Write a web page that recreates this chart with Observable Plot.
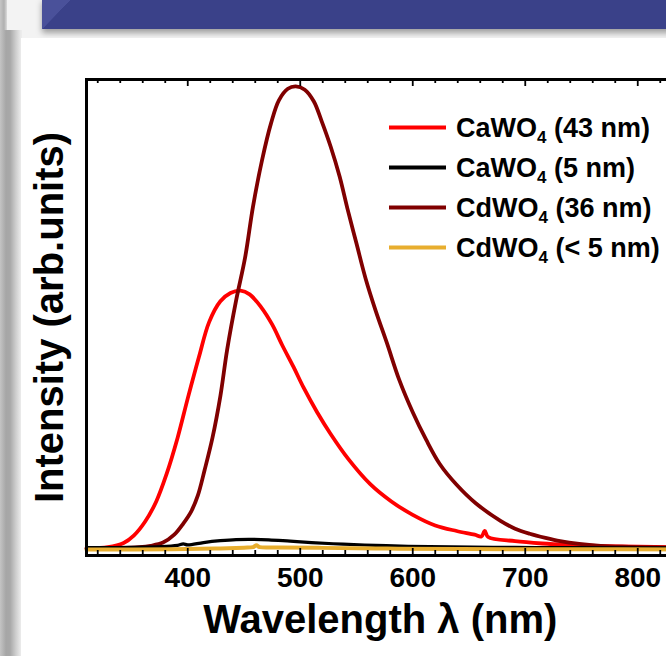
<!DOCTYPE html>
<html>
<head>
<meta charset="utf-8">
<script src="https://cdn.jsdelivr.net/npm/d3@7"></script>
<script src="https://cdn.jsdelivr.net/npm/@observablehq/plot@0.6"></script>
<style>
  html, body { margin: 0; padding: 0; width: 666px; height: 656px; overflow: hidden; background: #f3f3f3; }
  #topstrip { position: absolute; left: 0; top: 0; width: 7px; height: 40px; background: linear-gradient(to right, #c6c6c6, #b0b0b0 4px, #dcdcdc 7px); }
  #strip { position: absolute; left: 0; top: 30px; width: 22px; height: 640px; background: linear-gradient(to right, #c4c4c4 0px, #a6a6a6 6px, #a8a8a8 10px, #cfcfcf 16px, #ececec 21px); }
  #banner { position: absolute; left: 42px; top: -2px; width: 640px; height: 31px; background: #3a4189; box-shadow: 0 4px 6px rgba(0,0,0,0.35); }
  #bevel { position: absolute; left: 42px; top: -2px; width: 30px; height: 31px; background: linear-gradient(to bottom right, #4a519a 50%, transparent 51%); }
  #panel { position: absolute; left: 21px; top: 38px; width: 660px; height: 640px; background: #ffffff; }
  #chart { position: absolute; left: 0; top: 0; width: 700px; height: 656px; }
  #chart svg { display: block; max-width: none !important; width: 700px !important; height: 656px !important; }
</style>
</head>
<body>
<div id="topstrip"></div>
<div id="strip"></div>
<div id="banner"></div>
<div id="bevel"></div>
<div id="panel"></div>
<div id="chart"></div>
<script>
// ---- data ----
const wlCa43 = [310,329,343,352,362,372,381,391,400,410,419,429,438,447,455,465,475,484,494,503,515,527,543,562,581,600,620,639,655,661,664,667,691,715,739,763,786,815,850];
const valCa43 = [0.1,0.3,1.2,2.8,5.8,10.2,16,24,32.5,41.5,49,53.5,55.3,55.8,55,52.3,48.5,44,39.3,34.8,29.5,24.8,19.3,14,10.2,7.3,5,3.8,3.0,2.6,3.8,2.5,1.6,1.1,0.8,0.6,0.45,0.35,0.3];

const wlCa5 = [310,348,376,391,396,400,414,429,443,457,472,491,510,538,567,596,634,691,748,850];
const valCa5 = [0.2,0.25,0.4,0.7,1.0,0.8,1.3,1.7,1.95,2.0,1.9,1.6,1.3,0.95,0.7,0.5,0.35,0.25,0.2,0.15];

const wlCd36 = [310,338,357,367,378,388,396,403,409,415,422,429,435,443,451,458,466,474,481,489,496,504,512,519,527,535,542,550,558,567,577,588,600,612,624,639,656,678,691,704,718,731,748,767,786,815,850];
const valCd36 = [0,0.1,0.3,0.6,1.3,3,5.4,8,11.5,17,24,33,43,53.7,63,74,84,92,97,99.5,100,99.3,96.8,92.5,87,80.5,73.5,66,58.5,51.5,44.5,36.5,29.5,23.5,18.3,13.8,9.8,6,4.3,3.2,2.3,1.6,1,0.6,0.4,0.25,0.2];

const wlCd5 = [310,386,424,450,458,461,464,480,519,577,643,739,850];
const valCd5 = [-0.2,-0.15,0,0.2,0.3,0.7,0.3,0.25,0.15,0,-0.1,-0.15,-0.2];

const seriesColors = ["#ff0000", "#000000", "#800000", "#e8ae2e"];
const legendFormula = ["CaWO", "CaWO", "CdWO", "CdWO"];
const legendSub = ["4", "4", "4", "4"];
const legendSize = ["(43 nm)", "(5 nm)", "(36 nm)", "(< 5 nm)"];

const xTickLabels = [400, 500, 600, 700, 800];
const xMinorTicks = [320,340,360,380,420,440,460,480,520,540,560,580,620,640,660,680,720,740,760,780,820,840];

const xTitle = "Wavelength \u03bb (nm)";
const yTitle = "Intensity (arb.units)";

// ---- build tables ----
const toRows = (wl, v) => wl.map((w, i) => ({wl: w, v: v[i]}));
const ca43 = toRows(wlCa43, valCa43);
const ca5 = toRows(wlCa5, valCa5);
const cd36 = toRows(wlCd36, valCd36);
const cd5 = toRows(wlCd5, valCd5);

const FONT = "'Liberation Sans', Arial, Helvetica, sans-serif";
const H = 656, MT = 79, MB = 101;
const plotH = H - MT - MB;

const lineOpts = (color, w) => ({x: "wl", y: "v", stroke: color, strokeWidth: w, curve: "catmull-rom", strokeLinejoin: "round"});

const chart = Plot.plot({
  width: 700,
  height: H,
  marginLeft: 86,
  marginRight: 6.5,
  marginTop: MT,
  marginBottom: MB,
  x: {domain: [310, 850]},
  y: {domain: [-1.5, 101.5], axis: null},
  style: {background: "transparent", fontFamily: FONT, color: "black", overflow: "visible", maxWidth: "none"},
  marks: [
    Plot.line(ca43, lineOpts(seriesColors[0], 3.8)),
    Plot.line(cd36, lineOpts(seriesColors[2], 3.8)),
    Plot.line(ca5, lineOpts(seriesColors[1], 3.2)),
    Plot.line(cd5, lineOpts(seriesColors[3], 4)),
    // inward ticks: bottom
    Plot.tickX(xMinorTicks, {x: d => d, insetTop: plotH - 5, stroke: "black", strokeWidth: 1.8}),
    Plot.tickX(xTickLabels, {x: d => d, insetTop: plotH - 7, stroke: "black", strokeWidth: 1.8}),
    // inward ticks: top
    Plot.tickX(xMinorTicks, {x: d => d, insetBottom: plotH - 4, stroke: "black", strokeWidth: 1.8}),
    Plot.tickX(xTickLabels, {x: d => d, insetBottom: plotH - 7, stroke: "black", strokeWidth: 1.8}),
    Plot.frame({stroke: "black", strokeWidth: 3}),
    Plot.axisX(xTickLabels, {tickSize: 0, tickPadding: 12, fontSize: 28, fontWeight: "bold", label: null, fill: "black"}),
    Plot.text([xTitle], {frameAnchor: "bottom", textAnchor: "middle", lineAnchor: "middle", dy: 65, dx: -10, fontSize: 40, fontWeight: "bold", fill: "black"}),
    Plot.text([yTitle], {frameAnchor: "left", textAnchor: "middle", lineAnchor: "middle", rotate: -90, dx: -36, fontSize: 40, fontWeight: "bold", fill: "black"})
  ]
});

document.getElementById("chart").appendChild(chart);

// ---- legend (inside plot, top right) ----
const svg = d3.select(chart);
const lg = svg.append("g")
  .attr("font-family", FONT)
  .attr("font-weight", "bold")
  .attr("font-size", 27)
  .attr("text-anchor", "start")
  .attr("fill", "black");
legendFormula.forEach((f, i) => {
  const cy = 127.5 + i * 40;
  lg.append("line")
    .attr("x1", 389).attr("x2", 446)
    .attr("y1", cy).attr("y2", cy)
    .attr("stroke", seriesColors[i])
    .attr("stroke-width", 4);
  const t = lg.append("text").attr("x", 456).attr("y", cy + 9.5).attr("text-anchor", "start");
  t.append("tspan").text(f);
  t.append("tspan").attr("font-size", 17).attr("dy", 6).text(legendSub[i]);
  t.append("tspan").attr("dy", -6).text("\u00a0" + legendSize[i]);
});
</script>
</body>
</html>
